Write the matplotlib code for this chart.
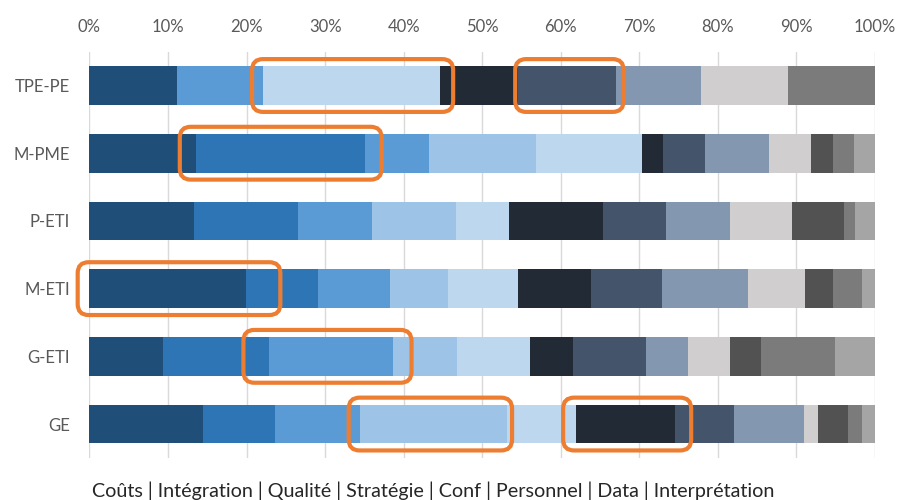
import matplotlib
matplotlib.use("Agg")
import matplotlib.pyplot as plt
from matplotlib.patches import FancyBboxPatch
import numpy as np

plt.rcParams['font.family'] = ['Lato', 'DejaVu Sans']

# Company size classes, top to bottom
categories = ["TPE-PE", "M-PME", "P-ETI", "M-ETI", "G-ETI", "GE"]

# Share of each stacked segment (percent), one list per segment, ordered by category
seg01 = [11.1, 13.6, 13.3, 19.9, 9.3, 14.4]
seg02 = [0.0, 21.5, 13.3, 9.2, 13.5, 9.2]
seg03 = [11.0, 8.1, 9.4, 9.2, 15.9, 10.9]
seg04 = [0.0, 13.7, 10.7, 7.4, 8.1, 18.7]
seg05 = [22.5, 13.4, 6.7, 8.9, 9.3, 8.7]
seg06 = [9.9, 2.7, 12.0, 9.2, 5.5, 12.7]
seg07 = [12.5, 5.4, 8.0, 9.1, 9.3, 7.4]
seg08 = [10.9, 8.1, 8.1, 10.9, 5.3, 9.0]
seg09 = [11.0, 5.4, 7.9, 7.3, 5.4, 1.8]
seg10 = [0.0, 2.8, 6.7, 3.5, 3.9, 3.8]
seg11 = [11.1, 2.6, 1.3, 3.8, 9.4, 1.8]
seg12 = [0.0, 2.7, 2.7, 1.7, 5.2, 1.7]

segments = [seg01, seg02, seg03, seg04, seg05, seg06,
            seg07, seg08, seg09, seg10, seg11, seg12]

seg_colors = ["#1F4E79", "#2E75B6", "#5B9BD5", "#9DC3E6", "#BDD7EE", "#222A35",
              "#44546A", "#8497B0", "#D0CECE", "#525252", "#7B7B7B", "#A5A5A5"]

x_ticks = [0, 10, 20, 30, 40, 50, 60, 70, 80, 90, 100]
x_tick_labels = [f"{t}%" for t in x_ticks]

# Highlighted spans: (category, start %, end %)
highlights = [
    ("TPE-PE", 20.7, 46.3),
    ("TPE-PE", 54.2, 68.0),
    ("M-PME", 11.5, 37.2),
    ("M-ETI", -1.5, 24.3),
    ("G-ETI", 19.6, 41.0),
    ("GE", 33.0, 53.8),
    ("GE", 60.3, 76.6),
]

footer = "Coûts | Intégration | Qualité | Stratégie | Conf | Personnel | Data | Interprétation"

fig = plt.figure(figsize=(9, 5), dpi=100)
ax = fig.add_axes([0.0994, 0.0842, 0.8728, 0.8125])

y = np.arange(len(categories))
bar_h = 0.57
left = np.zeros(len(categories))
for vals, col in zip(segments, seg_colors):
    vals = np.asarray(vals)
    ax.barh(y, vals, left=left, height=bar_h, color=col, edgecolor="none", zorder=2)
    left += vals

ax.set_xlim(0, 100)
ax.set_ylim(len(categories) - 0.5, -0.5)
ax.set_yticks(y)
ax.set_yticklabels(categories, fontsize=12, color="#595959")
ax.xaxis.tick_top()
ax.set_xticks(x_ticks)
ax.set_xticklabels(x_tick_labels, fontsize=12, color="#595959")
ax.tick_params(axis="x", length=0, pad=12)
ax.tick_params(axis="y", length=0, pad=14)
for s in ax.spines.values():
    s.set_visible(False)
ax.grid(axis="x", color="#D9D9D9", linewidth=1.0, zorder=0)
ax.set_axisbelow(True)

# Rounded orange frames around highlighted spans
px_per_x = fig.dpi * 9 * 0.8728 / 100.0
px_per_y = fig.dpi * 5 * 0.8125 / len(categories)
aspect = px_per_x / px_per_y
half = 0.39
for cat, x0, x1 in highlights:
    yc = categories.index(cat)
    box = FancyBboxPatch((x0, yc - half), x1 - x0, 2 * half,
                         boxstyle="round,pad=0,rounding_size=1.4",
                         mutation_aspect=aspect,
                         facecolor="none", edgecolor="#ED7D31",
                         linewidth=3.0, zorder=5, clip_on=False)
    ax.add_patch(box)

fig.text(92 / 900, 0.019, footer, ha="left", va="center", fontsize=14.2, color="#262626")

fig.savefig("out.png", dpi=100)
